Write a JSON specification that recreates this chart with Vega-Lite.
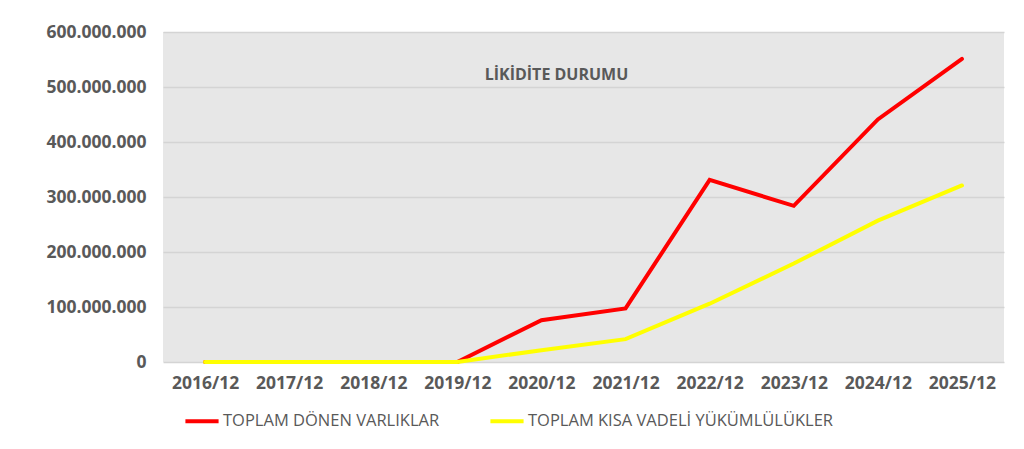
{
  "$schema": "https://vega.github.io/schema/vega-lite/v6.json",
  "autosize": "none",
  "width": 841,
  "height": 330,
  "padding": {"left": 163, "top": 32, "right": 20, "bottom": 87},
  "background": "white",
  "title": {
    "text": "LİKİDİTE DURUMU",
    "orient": "top",
    "anchor": "middle",
    "offset": -60,
    "dx": -27,
    "font": "Open Sans",
    "fontSize": 16,
    "fontWeight": "bold",
    "color": "#595959"
  },
  "config": {
    "view": {"fill": "#e7e7e7", "stroke": null},
    "axis": {
      "labelFont": "Open Sans",
      "labelFontWeight": "bold",
      "labelFontSize": 17.5,
      "labelColor": "#595959",
      "domain": false,
      "ticks": false,
      "title": null
    },
    "legend": {
      "labelFont": "Open Sans",
      "labelFontSize": 16.5,
      "labelColor": "#595959",
      "labelLimit": 500
    }
  },
  "data": {
    "values": [
      {"donem": "2016/12", "seri": "TOPLAM DÖNEN VARLIKLAR", "deger": 0},
      {"donem": "2017/12", "seri": "TOPLAM DÖNEN VARLIKLAR", "deger": 0},
      {"donem": "2018/12", "seri": "TOPLAM DÖNEN VARLIKLAR", "deger": 0},
      {"donem": "2019/12", "seri": "TOPLAM DÖNEN VARLIKLAR", "deger": 0},
      {"donem": "2020/12", "seri": "TOPLAM DÖNEN VARLIKLAR", "deger": 76000000},
      {"donem": "2021/12", "seri": "TOPLAM DÖNEN VARLIKLAR", "deger": 97500000},
      {"donem": "2022/12", "seri": "TOPLAM DÖNEN VARLIKLAR", "deger": 331000000},
      {"donem": "2023/12", "seri": "TOPLAM DÖNEN VARLIKLAR", "deger": 284000000},
      {"donem": "2024/12", "seri": "TOPLAM DÖNEN VARLIKLAR", "deger": 441000000},
      {"donem": "2025/12", "seri": "TOPLAM DÖNEN VARLIKLAR", "deger": 551000000},
      {"donem": "2016/12", "seri": "TOPLAM KISA VADELİ YÜKÜMLÜLÜKLER", "deger": 0},
      {"donem": "2017/12", "seri": "TOPLAM KISA VADELİ YÜKÜMLÜLÜKLER", "deger": 0},
      {"donem": "2018/12", "seri": "TOPLAM KISA VADELİ YÜKÜMLÜLÜKLER", "deger": 0},
      {"donem": "2019/12", "seri": "TOPLAM KISA VADELİ YÜKÜMLÜLÜKLER", "deger": 0},
      {"donem": "2020/12", "seri": "TOPLAM KISA VADELİ YÜKÜMLÜLÜKLER", "deger": 21500000},
      {"donem": "2021/12", "seri": "TOPLAM KISA VADELİ YÜKÜMLÜLÜKLER", "deger": 41500000},
      {"donem": "2022/12", "seri": "TOPLAM KISA VADELİ YÜKÜMLÜLÜKLER", "deger": 106000000},
      {"donem": "2023/12", "seri": "TOPLAM KISA VADELİ YÜKÜMLÜLÜKLER", "deger": 179000000},
      {"donem": "2024/12", "seri": "TOPLAM KISA VADELİ YÜKÜMLÜLÜKLER", "deger": 257000000},
      {"donem": "2025/12", "seri": "TOPLAM KISA VADELİ YÜKÜMLÜLÜKLER", "deger": 321000000}
    ]
  },
  "mark": {"type": "line", "strokeWidth": 4, "strokeCap": "round", "strokeJoin": "miter"},
  "encoding": {
    "x": {
      "field": "donem",
      "type": "ordinal",
      "scale": {"type": "point", "padding": 0.5},
      "axis": {"labelAngle": 0, "labelPadding": 12, "grid": false}
    },
    "y": {
      "field": "deger",
      "type": "quantitative",
      "scale": {"domain": [0, 600000000], "nice": false},
      "axis": {
        "values": [0, 100000000, 200000000, 300000000, 400000000, 500000000, 600000000],
        "labelExpr": "replace(format(datum.value, ','), regexp(',', 'g'), '.')",
        "labelPadding": 17,
        "gridColor": "#d4d4d4",
        "gridWidth": 1.3
      }
    },
    "color": {
      "field": "seri",
      "type": "nominal",
      "scale": {
        "domain": ["TOPLAM DÖNEN VARLIKLAR", "TOPLAM KISA VADELİ YÜKÜMLÜLÜKLER"],
        "range": ["#ff0000", "#ffff00"]
      },
      "legend": {
        "title": null,
        "orient": "none",
        "legendX": 20,
        "legendY": 370,
        "direction": "horizontal",
        "columns": 2,
        "columnPadding": 42,
        "symbolType": "stroke",
        "symbolSize": 1100,
        "symbolStrokeWidth": 4,
        "labelOffset": 2
      }
    }
  }
}
